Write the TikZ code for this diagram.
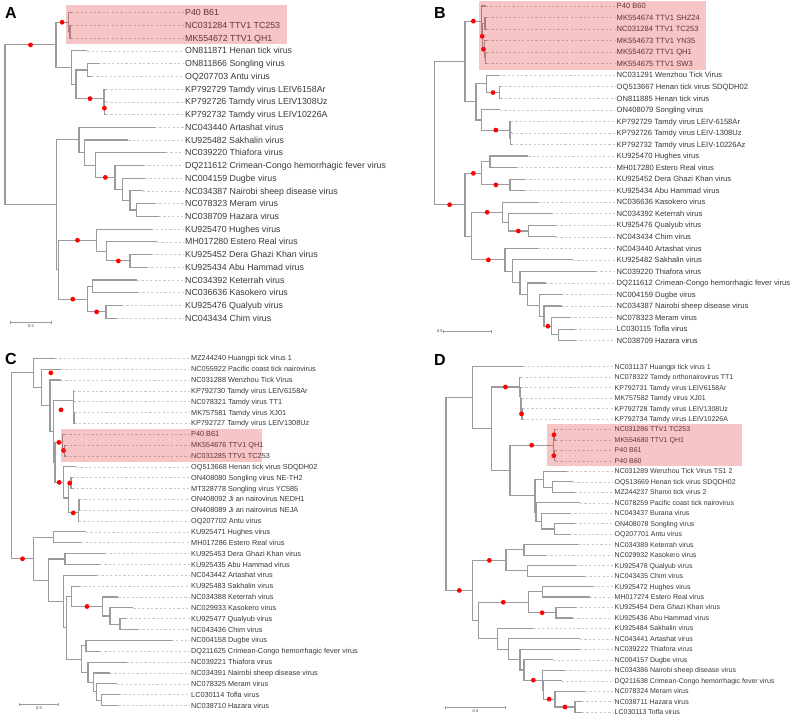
\documentclass[tikz,border=0pt]{standalone}
\usepackage{fontspec}
\setmainfont{Liberation Sans}
\usetikzlibrary{calc,arrows.meta}
\definecolor{brgray}{RGB}{155,155,155}
\definecolor{dashgray}{RGB}{200,200,200}
\definecolor{txtgray}{RGB}{55,55,55}
\definecolor{bsred}{RGB}{255,0,0}
\definecolor{hlred}{RGB}{222,45,45}
\tikzset{
  branch/.style={draw=brgray, line width=1.1pt},
  tipdash/.style={draw=dashgray, line width=0.6pt, dash pattern=on 2.2pt off 2.2pt},
  leaf/.style={anchor=west, inner xsep=1.5pt, inner ysep=0pt, text depth=0pt, text=txtgray},
  leafA/.style={leaf, text height=6.2pt, font=\fontsize{8.8}{9}\selectfont},
  leafB/.style={leaf, text height=5.4pt, font=\fontsize{7.6}{8}\selectfont},
  leafC/.style={leaf, text height=5.1pt, font=\fontsize{7.3}{8}\selectfont},
  leafD/.style={leaf, text height=4.9pt, font=\fontsize{7}{8}\selectfont},
  panlab/.style={anchor=base west, inner sep=0pt, font=\bfseries\fontsize{16}{16}\selectfont},
  hilite/.style={fill=hlred, fill opacity=0.28, draw=none},
  sbar/.style={draw=brgray, line width=0.6pt, {Bar[width=3pt]}-{Bar[width=3pt]}},
  sbarlab/.style={font=\fontsize{4}{4}\selectfont, text=txtgray, inner sep=0.5pt},
}
% clade: name, x, upper child, lower child
\newcommand\clade[4]{%
  \path ($(#3)!.5!(#4)$) coordinate (#1m);
  \coordinate (#1) at (#2,0 |- #1m);
  \draw[branch] (#3) -| (#1) |- (#4);
}
\newcommand\bsdot[2]{\fill[bsred] ($(#1 |- #2)!.5!(#2)$) circle (2.4pt);}

\begin{document}
\begin{tikzpicture}[x=1pt,y=-1pt]
\useasboundingbox (0,0) rectangle (793,717);

% panel A
\node[panlab] (pA) at (5,19) {A};
\foreach \tx/\txt [count=\i] in {72/P40 B61, 72/NC031284 TTV1 TC253, 72/MK554672 TTV1 QH1,
  87.3/ON811871 Henan tick virus, 99/ON811866 Songling virus, 92/OQ207703 Antu virus,
  106/KP792729 Tamdy virus LEIV6158Ar, 106/KP792726 Tamdy virus LEIV1308Uz, 106/KP792732 Tamdy virus LEIV10226A,
  155/NC043440 Artashat virus, 128.3/KU925482 Sakhalin virus, 166/NC039220 Thiafora virus,
  144/DQ211612 Crimean-Congo hemorrhagic fever virus, 145/NC004159 Dugbe virus,
  143/NC034387 Nairobi sheep disease virus, 155/NC078323 Meram virus, 159/NC038709 Hazara virus,
  151.7/KU925470 Hughes virus, 157/MH017280 Estero Real virus, 152/KU925452 Dera Ghazi Khan virus,
  147/KU925434 Abu Hammad virus, 137/NC034392 Keterrah virus, 138/NC036636 Kasokero virus,
  122/KU925476 Qualyub virus, 117/NC043434 Chim virus}{
  \coordinate (ta\i) at (\tx,{12.7+(\i-1)*12.73});
  \node[leafA] (a\i) at (183.5,{12.7+(\i-1)*12.73}) {\txt};
  \draw[tipdash] (ta\i) -- (a\i);
}
\clade{aP2}{70}{ta2}{ta3}
\clade{aP}{68.3}{ta1}{aP2}
\clade{aN3}{87.3}{ta5}{ta6}
\clade{aN5}{104.8}{ta8}{ta9}
\clade{aN4}{104}{ta7}{aN5}
\clade{aN2}{76}{aN3}{aN4}
\clade{aN1}{71.7}{ta4}{aN2}
\clade{aT}{56}{aP}{aN1}
\clade{aB2g}{136.7}{ta16}{ta17}
\clade{aB2f}{130}{ta15}{aB2g}
\clade{aB2e}{122.7}{ta14}{aB2f}
\clade{aB2d}{115}{ta13}{aB2e}
\clade{aB2c}{95.7}{ta12}{aB2d}
\clade{aB2b}{84.3}{ta11}{aB2c}
\clade{aB2}{79}{ta10}{aB2b}
\clade{aH3}{130}{ta20}{ta21}
\clade{aH2}{106.7}{ta19}{aH3}
\clade{aH}{96.7}{ta18}{aH2}
\clade{aK1}{92.7}{ta22}{ta23}
\clade{aQ}{106}{ta24}{ta25}
\clade{aK}{87.3}{aK1}{aQ}
\clade{aB3}{58.3}{aH}{aK}
\clade{aB1}{56.7}{aB2}{aB3}
\clade{aR}{5}{aT}{aB1}
\bsdot{aR}{aT} \bsdot{aT}{aP} \bsdot{aN2}{aN4} \bsdot{aN4}{aN5} \bsdot{aB2c}{aB2d}
\bsdot{aB3}{aH} \bsdot{aH2}{aH3} \bsdot{aB3}{aK} \bsdot{aK}{aQ}
\coordinate (sa1) at (10,322);
\coordinate (sa2) at (52,322);
\draw[sbar] (sa1) -- (sa2) node[sbarlab, midway, below=1.5pt] (sal) {0.5};
\fill[hilite] (66,4.7) rectangle (286.7,44.3);

% panel B
\node[panlab] (pB) at (434,19) {B};
\foreach \tx/\txt [count=\i] in {486/P40 B60, 487/MK554674 TTV1 SHZ24, 487/NC031284 TTV1 TC253,
  487/MK554673 TTV1 YN35, 487/MK554672 TTV1 QH1, 487/MK554675 TTV1 SW3,
  499/NC031291 Wenzhou Tick Virus, 500.5/OQ513667 Henan tick virus SDQDH02, 500.5/ON811885 Henan tick virus,
  500/ON408079 Songling virus, 511/KP792729 Tamdy virus LEIV-6158Ar, 511.5/KP792726 Tamdy virus LEIV-1308Uz,
  511.5/KP792732 Tamdy virus LEIV-10226Az, 528.3/KU925470 Hughes virus, 516.7/MH017280 Estero Real virus,
  525/KU925452 Dera Ghazi Khan virus, 525/KU925434 Abu Hammad virus, 538.3/NC036636 Kasokero virus,
  551.7/NC034392 Keterrah virus, 556/KU925476 Qualyub virus, 556/NC043434 Chim virus,
  538.3/NC043440 Artashat virus, 573/KU925482 Sakhalin virus, 596/NC039220 Thiafora virus,
  546/DQ211612 Crimean-Congo hemorrhagic fever virus, 561.7/NC004159 Dugbe virus,
  561.7/NC034387 Nairobi sheep disease virus, 570/NC078323 Meram virus, 575/LC030115 Tofla virus,
  576/NC038709 Hazara virus}{
  \coordinate (tb\i) at (\tx,{6+(\i-1)*11.54});
  \node[leafB] (b\i) at (615,{6+(\i-1)*11.54}) {\txt};
  \draw[tipdash] (tb\i) -- (b\i);
}
\clade{bA3}{485.5}{tb5}{tb6}
\clade{bA2}{484.3}{tb4}{bA3}
\clade{bA0}{485}{tb2}{tb3}
\clade{bA1}{482.7}{bA0}{bA2}
\clade{bT}{481.7}{tb1}{bA1}
\clade{bW2}{499.3}{tb8}{tb9}
\clade{bW}{486.7}{tb7}{bW2}
\clade{bTm2}{510.5}{tb12}{tb13}
\clade{bTm}{510}{tb11}{bTm2}
\clade{bS}{481.7}{tb10}{bTm}
\clade{bV}{476}{bW}{bS}
\clade{bU}{465}{bT}{bV}
\clade{bHE}{490}{tb14}{tb15}
\clade{bDA}{510}{tb16}{tb17}
\clade{bH}{481.7}{bHE}{bDA}
\clade{bQC}{528.3}{tb20}{tb21}
\clade{bKe}{508.3}{tb19}{bQC}
\clade{bKa}{502.7}{tb18}{bKe}
\clade{bTH}{558.3}{tb29}{tb30}
\clade{bMe}{551.7}{tb28}{bTH}
\clade{bNa}{544}{tb27}{bMe}
\clade{bDu}{539.3}{tb26}{bNa}
\clade{bCC}{527.7}{tb25}{bDu}
\clade{bTh}{520}{tb24}{bCC}
\clade{bSa}{512.7}{tb23}{bTh}
\clade{bAr}{505}{tb22}{bSa}
\clade{bM}{471.7}{bKa}{bAr}
\clade{bL}{465}{bH}{bM}
\clade{bR}{434.3}{bU}{bL}
\bsdot{bU}{bT} \bsdot{bT}{bA1} \bsdot{bA1}{bA2} \bsdot{bW}{bW2} \bsdot{bS}{bTm}
\bsdot{bR}{bL} \bsdot{bL}{bH} \bsdot{bH}{bDA} \bsdot{bM}{bKa} \bsdot{bKe}{bQC}
\bsdot{bM}{bAr} \bsdot{bNa}{bMe}
\coordinate (sb1) at (443.3,331);
\coordinate (sb2) at (491.7,331);
\draw[sbar] (sb1) -- (sb2);
\node[sbarlab, anchor=east] (sbl) at (sb1) {0.5};
\fill[hilite] (478.7,1) rectangle (705.7,70);

% panel C
\node[panlab] (pC) at (5,364.5) {C};
\foreach \tx/\txt [count=\i] in {55/MZ244240 Huangpi tick virus 1, 61/NC055922 Pacific coast tick nairovirus,
  61/NC031288 Wenzhou Tick Virus, 74/KP792730 Tamdy virus LEIV6158Ar, 74/NC078321 Tamdy virus TT1,
  74.5/MK757581 Tamdy virus XJ01, 74.5/KP792727 Tamdy virus LEIV1308Uz, 65/P40 B61, 65.5/MK554676 TTV1 QH1,
  65.5/NC031285 TTV1 TC253, 76/OQ513668 Henan tick virus SDQDH02, 72.5/ON408080 Songling virus NE-TH2,
  72.5/MT328778 Songling virus YC585, 80/ON408092 Ji an nairovirus NEDH1, 80/ON408089 Ji an nairovirus NEJA,
  79/OQ207702 Antu virus, 86/KU925471 Hughes virus, 81/MH017286 Estero Real virus,
  105/KU925453 Dera Ghazi Khan virus, 100/KU925435 Abu Hammad virus, 97/NC043442 Artashat virus,
  80/KU925483 Sakhalin virus, 118.3/NC034388 Keterrah virus, 133.3/NC029933 Kasokero virus,
  126/KU925477 Qualyub virus, 138/NC043436 Chim virus, 171.7/NC004158 Dugbe virus,
  100/DQ211625 Crimean-Congo hemorrhagic fever virus, 126.7/NC039221 Thiafora virus,
  110/NC034391 Nairobi sheep disease virus, 116.7/NC078325 Meram virus, 120/LC030114 Tofla virus,
  118.3/NC038710 Hazara virus}{
  \coordinate (tc\i) at (\tx,{358.3+(\i-1)*10.85});
  \node[leafC] (c\i) at (189.5,{358.3+(\i-1)*10.85}) {\txt};
  \draw[tipdash] (tc\i) -- (c\i);
}
\clade{cTm3}{74}{tc6}{tc7}
\clade{cTm2}{73.7}{tc5}{cTm3}
\clade{cTm}{73.3}{tc4}{cTm2}
\clade{cP2}{64.3}{tc9}{tc10}
\clade{cP}{62.7}{tc8}{cP2}
\clade{cSo}{71}{tc12}{tc13}
\clade{cJa}{79}{tc14}{tc15}
\clade{cJ}{78.3}{cJa}{tc16}
\clade{cS}{68.3}{cSo}{cJ}
\clade{cHe}{63.3}{tc11}{cS}
\clade{cQ}{55}{cP}{cHe}
\clade{cK}{53.3}{cTm}{cQ}
\clade{cW}{50}{tc3}{cK}
\clade{cPa}{41.7}{tc2}{cW}
\clade{cT}{33.3}{tc1}{cPa}
\clade{cHE}{53.3}{tc17}{tc18}
\clade{cDA}{65}{tc19}{tc20}
\clade{cQC}{120}{tc25}{tc26}
\clade{cKa}{110}{tc24}{cQC}
\clade{cKe}{102.3}{tc23}{cKa}
\clade{cSa}{71.7}{tc22}{cKe}
\clade{cTH}{101.7}{tc32}{tc33}
\clade{cMe}{96.7}{tc31}{cTH}
\clade{cNa}{93.3}{tc30}{cMe}
\clade{cTf}{88}{tc29}{cNa}
\clade{cDu}{86}{tc27}{tc28}
\clade{cD}{81.7}{cDu}{cTf}
\clade{cR5}{66.7}{cSa}{cD}
\clade{cR4}{63.3}{tc21}{cR5}
\clade{cR3}{48.3}{cDA}{cR4}
\clade{cR2}{33.3}{cHE}{cR3}
\clade{cR}{11.7}{cT}{cR2}
\bsdot{cK}{cTm} \bsdot{cTm}{cTm2} \bsdot{cQ}{cP} \bsdot{cP}{cP2} \bsdot{cQ}{cHe}
\bsdot{cS}{cSo} \bsdot{cS}{cJ} \bsdot{cSa}{cKe} \bsdot{cR}{cR2}
\coordinate (sc1) at (19,704.3);
\coordinate (sc2) at (59,704.3);
\draw[sbar] (sc1) -- (sc2) node[sbarlab, midway, below=1.5pt] (scl) {0.5};
\fill[hilite] (61,429) rectangle (262,461.7);

% panel D
\node[panlab] (pD) at (434,365) {D};
\foreach \tx/\txt [count=\i] in {523.3/NC031137 Huangpi tick virus 1, 521/NC078322 Tamdy orthonairovirus TT1,
  521/KP792731 Tamdy virus LEIV6158Ar, 521.5/MK757582 Tamdy virus XJ01, 522.5/KP792728 Tamdy virus LEIV1308Uz,
  522.5/KP792734 Tamdy virus LEIV10226A, 556/NC031286 TTV1 TC253, 556/MK554680 TTV1 QH1, 556/P40 B61,
  556/P40 B60, 566.7/NC031289 Wenzhou Tick Virus TS1 2, 573/OQ513669 Henan tick virus SDQDH02,
  575/MZ244237 Shanxi tick virus 2, 580/NC078259 Pacific coast tick nairovirus, 570/NC043437 Burana virus,
  575/ON408078 Songling virus, 570/OQ207701 Antu virus, 578.3/NC034389 Keterrah virus,
  546/NC029932 Kasokero virus, 576/KU925478 Qualyub virus, 585/NC043435 Chim virus,
  593.3/KU925472 Hughes virus, 590/MH017274 Estero Real virus, 576/KU925454 Dera Ghazi Khan virus,
  573/KU925436 Abu Hammad virus, 533.3/KU925484 Sakhalin virus, 580/NC043441 Artashat virus,
  580/NC039222 Thiafora virus, 553.3/NC004157 Dugbe virus, 565/NC034386 Nairobi sheep disease virus,
  561.7/DQ211638 Crimean-Congo hemorrhagic fever virus, 585/NC078324 Meram virus,
  582/NC038711 Hazara virus, 582/LC030113 Tofla virus}{
  \coordinate (td\i) at (\tx,{366.7+(\i-1)*10.47});
  \node[leafD] (d\i) at (613,{366.7+(\i-1)*10.47}) {\txt};
  \draw[tipdash] (td\i) -- (d\i);
}
\clade{dTm4}{522}{td5}{td6}
\clade{dTm3}{521}{td4}{dTm4}
\clade{dTm2}{520.5}{td3}{dTm3}
\clade{dTm}{519.3}{td2}{dTm2}
\clade{dP1}{554.7}{td7}{td8}
\clade{dP2}{554.3}{td9}{td10}
\clade{dTT}{553.3}{dP1}{dP2}
\clade{dW2}{552.7}{td12}{td13}
\clade{dW}{543.3}{td11}{dW2}
\clade{dSA}{554.3}{td16}{td17}
\clade{dZ}{541.7}{td15}{dSA}
\clade{dY}{536}{td14}{dZ}
\clade{dX}{535}{dW}{dY}
\clade{dI}{510}{dTT}{dX}
\clade{dG}{491.7}{dTm}{dI}
\clade{dU}{472.7}{td1}{dG}
\clade{dKK}{524}{td18}{td19}
\clade{dQC}{527.7}{td20}{td21}
\clade{dK}{506}{dKK}{dQC}
\clade{dHE}{542.7}{td22}{td23}
\clade{dDA}{556}{td24}{td25}
\clade{dH}{528.3}{dHE}{dDA}
\clade{dHT}{575}{td33}{td34}
\clade{dN3}{555}{td32}{dHT}
\clade{dN2}{543.3}{td31}{dN3}
\clade{dN1}{542.7}{td30}{dN2}
\clade{dDu}{524}{td29}{dN1}
\clade{dTh}{520}{td28}{dDu}
\clade{dAr}{508.3}{td27}{dTh}
\clade{dSa}{497.3}{td26}{dAr}
\clade{dM}{478.3}{dH}{dSa}
\clade{dL}{472.7}{dK}{dM}
\clade{dR}{446}{dU}{dL}
\bsdot{dG}{dTm} \bsdot{dTm3}{dTm4} \bsdot{dI}{dTT} \bsdot{dTT}{dP1} \bsdot{dTT}{dP2}
\bsdot{dR}{dL} \bsdot{dL}{dK} \bsdot{dM}{dH} \bsdot{dH}{dDA} \bsdot{dDu}{dN1}
\bsdot{dN2}{dN3} \bsdot{dN3}{dHT}
\coordinate (sd1) at (445,707.7);
\coordinate (sd2) at (506,707.7);
\draw[sbar] (sd1) -- (sd2) node[sbarlab, midway, below=1.5pt] (sdl) {0.5};
\fill[hilite] (546.7,424) rectangle (742,465.7);
\end{tikzpicture}
\end{document}
